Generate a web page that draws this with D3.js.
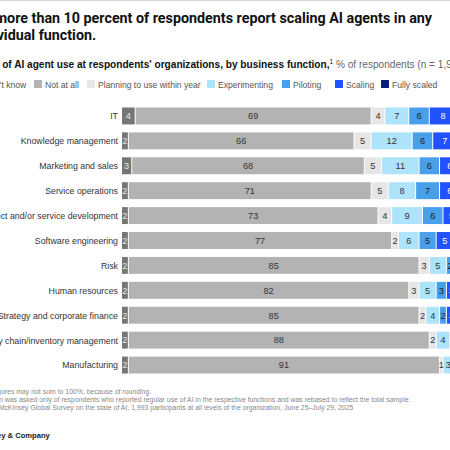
<!DOCTYPE html>
<html><head><meta charset="utf-8">
<script src="https://cdn.jsdelivr.net/npm/d3@7"></script>
<style>
html,body{margin:0;padding:0;background:#fff;overflow:hidden;}
svg{display:block;font-family:"Liberation Sans",Arial,sans-serif;}
</style></head>
<body>
<svg id="chart" width="450" height="450"></svg>
<script>
const categories = ["IT","Knowledge management","Marketing and sales","Service operations","Product and/or service development","Software engineering","Risk","Human resources","Strategy and corporate finance","Supply chain/inventory management","Manufacturing"];
const seriesNames = ["Don't know","Not at all","Planning to use within year","Experimenting","Piloting","Scaling","Fully scaled"];
const dontKnow      = [4,2,3,2,2,2,2,2,2,2,2];
const notAtAll      = [69,66,68,71,73,77,85,82,85,88,91];
const planning      = [4,5,5,5,4,2,3,3,2,2,1];
const experimenting = [7,12,11,8,9,6,5,5,4,4,3];
const piloting      = [6,6,6,7,6,5,2,3,2,2,1];
const scaling       = [8,7,6,6,5,5,2,3,3,1,1];
const fullyScaled   = [2,2,1,1,1,3,1,2,2,1,1];
const seriesValues = [dontKnow,notAtAll,planning,experimenting,piloting,scaling,fullyScaled];
const colors = ["#767676","#b3b3b3","#e6e6e6","#ade3fb","#48a0ea","#2251ff","#061f79"];
const textColors = ["#e8e8e8","#333","#333","#333","#222","#fff","#fff"];

const svg = d3.select("#chart");
const L = -27;

// top rule
svg.append("line").attr("x1",0).attr("x2",450).attr("y1",0.5).attr("y2",0.5).attr("stroke","#d6d6d6").attr("stroke-width",1);

// title
const title = svg.append("text").attr("x",L).attr("y",23).attr("font-size",14.3).attr("font-weight",700).attr("fill","#111").attr("font-family","Roboto, sans-serif");
title.append("tspan").attr("x",L).attr("y",23).text("No more than 10 percent of respondents report scaling AI agents in any");
title.append("tspan").attr("x",L).attr("y",40).text("individual function.");

// subtitle
const sub = svg.append("text").attr("x",L).attr("y",68).attr("font-size",10.1).attr("fill","#111");
sub.append("tspan").attr("font-weight",700).text("Scale of AI agent use at respondents' organizations, by business function,");
sub.append("tspan").attr("font-size",6.5).attr("dy",-4).attr("fill","#111").text("1");
sub.append("tspan").attr("dy",4).attr("fill","#666").text(" % of respondents (n = 1,993)");

// legend
const legendX = [L, 34, 87, 207, 282, 335, 381];
const lg = svg.append("g").selectAll("g").data(seriesNames).join("g")
  .attr("transform",(d,i)=>`translate(${legendX[i]},80)`);
lg.append("rect").attr("width",8).attr("height",8).attr("fill",(d,i)=>colors[i]);
lg.append("text").attr("x",11).attr("y",7.5).attr("font-size",8.6).attr("fill","#555").text(d=>d);

// scales
const x0 = 122;
const x = d3.scaleLinear().domain([0,100]).range([x0, x0+342]);
const y = d3.scaleBand().domain(categories).range([103.5, 377.5]).paddingInner(0.32).paddingOuter(0.16);

// stacked data
const rows = categories.map((c,i)=>{ const o={cat:c}; seriesNames.forEach((s,j)=>o[s]=seriesValues[j][i]); return o; });
const stack = d3.stack().keys(seriesNames)(rows);

const layers = svg.append("g").selectAll("g").data(stack).join("g");
layers.selectAll("rect").data(d=>d.map(v=>({v,key:d.key,idx:d.index}))).join("rect")
  .attr("x",d=>x(d.v[0]))
  .attr("y",d=>y(d.v.data.cat))
  .attr("width",d=>Math.max(0.5,x(d.v[1])-x(d.v[0])-1))
  .attr("height",y.bandwidth())
  .attr("fill",d=>colors[d.idx]);
layers.selectAll("text").data(d=>d.map(v=>({v,key:d.key,idx:d.index}))).join("text")
  .attr("x",d=>(x(d.v[0])+x(d.v[1])-1)/2)
  .attr("y",d=>y(d.v.data.cat)+y.bandwidth()/2+3.3)
  .attr("text-anchor","middle").attr("font-size",9.2)
  .attr("fill",d=>textColors[d.idx])
  .text(d=>d.v[1]-d.v[0]);

// category labels
svg.append("g").selectAll("text").data(categories).join("text")
  .attr("x",x0-4).attr("y",d=>y(d)+y.bandwidth()/2+3.4)
  .attr("text-anchor","end").attr("font-size",8.8).attr("fill","#333").text(d=>d);

// footnotes
const notes = ["Note: Figures may not sum to 100%, because of rounding.",
 "¹Question was asked only of respondents who reported regular use of AI in the respective functions and was rebased to reflect the total sample.",
 "Source: McKinsey Global Survey on the state of AI, 1,993 participants at all levels of the organization, June 25–July 29, 2025"];
svg.append("g").selectAll("text").data(notes).join("text")
  .attr("x",L).attr("y",(d,i)=>394+i*7.8).attr("font-size",6.9).attr("fill","#888").text(d=>d);

svg.append("text").attr("x",-30).attr("y",438).attr("font-size",7.6).attr("font-weight",700).attr("fill","#222").text("McKinsey & Company");
</script>
</body></html>
